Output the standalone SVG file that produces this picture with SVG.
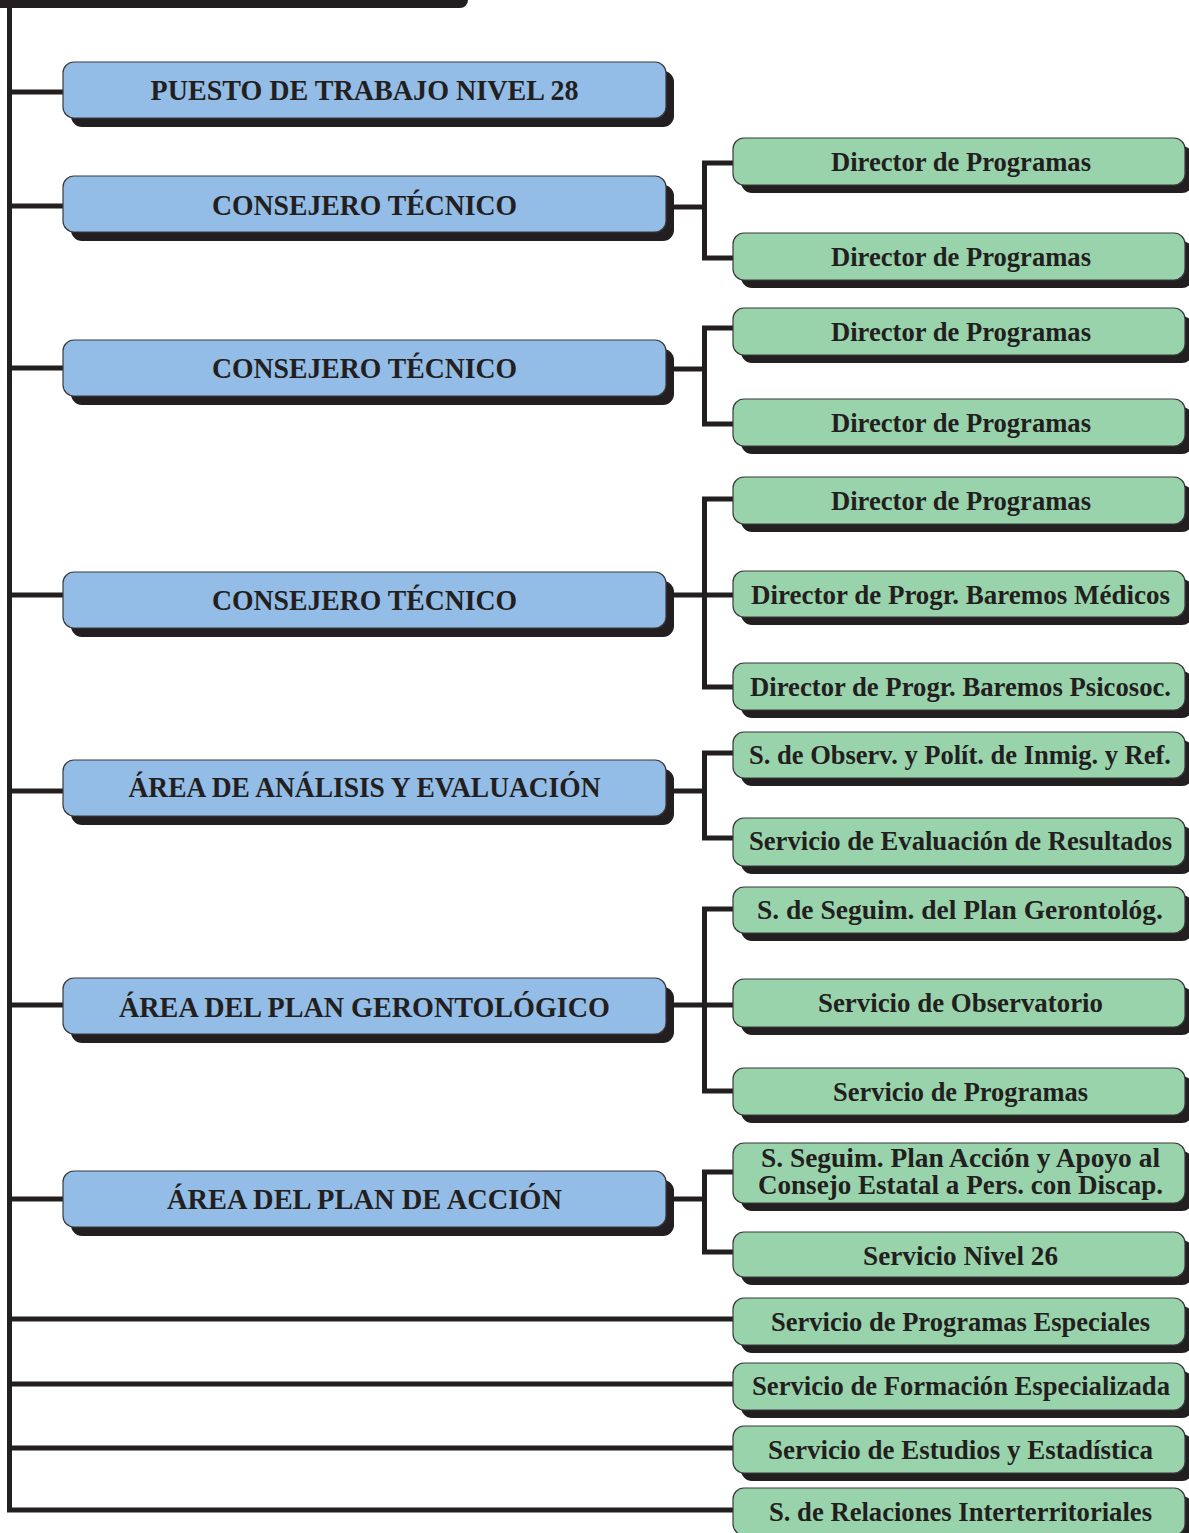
<svg xmlns="http://www.w3.org/2000/svg" width="1189" height="1533" viewBox="0 0 1189 1533">
<style>
.conn{fill:none;stroke:#231f20;stroke-width:5;stroke-linejoin:miter;stroke-linecap:butt}
.sh{fill:#231f20}
.blue{fill:#93bde6;stroke:#3a3a3a;stroke-width:1.2}
.green{fill:#99d3ac;stroke:#3a3a3a;stroke-width:1.2}
.bt{font-family:"Liberation Serif","Times New Roman",serif;font-weight:bold;font-size:29px;fill:#231f20;text-anchor:middle}
.gt{font-family:"Liberation Serif","Times New Roman",serif;font-weight:bold;font-size:27px;fill:#231f20;text-anchor:middle}
</style>
<rect width="1189" height="1533" fill="#ffffff"/>
<path class="sh" d="M0 0 H468 A8 8 0 0 1 460 8 H0 Z"/>
<g id="connectors">
<path class="conn" d="M9.5 0 V1510 H733"/>
<path class="conn" d="M9.5 92 H63"/>
<path class="conn" d="M9.5 206 H63"/>
<path class="conn" d="M9.5 368 H63"/>
<path class="conn" d="M9.5 595 H63"/>
<path class="conn" d="M9.5 791 H63"/>
<path class="conn" d="M9.5 1005 H63"/>
<path class="conn" d="M9.5 1199 H63"/>
<path class="conn" d="M9.5 1319 H733"/>
<path class="conn" d="M9.5 1384 H733"/>
<path class="conn" d="M9.5 1448 H733"/>
<path class="conn" d="M666 207 H704.5"/>
<path class="conn" d="M733 163 H704.5 V258 H733"/>
<path class="conn" d="M666 369 H704.5"/>
<path class="conn" d="M733 328 H704.5 V424 H733"/>
<path class="conn" d="M666 595 H733"/>
<path class="conn" d="M733 499 H704.5 V687 H733"/>
<path class="conn" d="M666 791 H704.5"/>
<path class="conn" d="M733 753 H704.5 V838 H733"/>
<path class="conn" d="M666 1005 H733"/>
<path class="conn" d="M733 909 H704.5 V1091 H733"/>
<path class="conn" d="M666 1199 H704.5"/>
<path class="conn" d="M733 1172 H704.5 V1252 H733"/>
</g>
<g id="n-puesto"><rect class="sh" x="71" y="71" width="603" height="56" rx="11"/><rect class="blue" x="63" y="62" width="603" height="56" rx="11"/><text class="bt" x="364.5" y="100" textLength="428" lengthAdjust="spacingAndGlyphs">PUESTO DE TRABAJO NIVEL 28</text></g>
<g id="n-consejero1"><rect class="sh" x="71" y="185" width="603" height="56" rx="11"/><rect class="blue" x="63" y="176" width="603" height="56" rx="11"/><text class="bt" x="364.5" y="215" textLength="305" lengthAdjust="spacingAndGlyphs">CONSEJERO TÉCNICO</text></g>
<g id="n-consejero2"><rect class="sh" x="71" y="349" width="603" height="56" rx="11"/><rect class="blue" x="63" y="340" width="603" height="56" rx="11"/><text class="bt" x="364.5" y="378" textLength="305" lengthAdjust="spacingAndGlyphs">CONSEJERO TÉCNICO</text></g>
<g id="n-consejero3"><rect class="sh" x="71" y="581" width="603" height="56" rx="11"/><rect class="blue" x="63" y="572" width="603" height="56" rx="11"/><text class="bt" x="364.5" y="610" textLength="305" lengthAdjust="spacingAndGlyphs">CONSEJERO TÉCNICO</text></g>
<g id="n-analisis"><rect class="sh" x="71" y="769" width="603" height="56" rx="11"/><rect class="blue" x="63" y="760" width="603" height="56" rx="11"/><text class="bt" x="364.5" y="797" textLength="472" lengthAdjust="spacingAndGlyphs">ÁREA DE ANÁLISIS Y EVALUACIÓN</text></g>
<g id="n-geronto"><rect class="sh" x="71" y="987" width="603" height="56" rx="11"/><rect class="blue" x="63" y="978" width="603" height="56" rx="11"/><text class="bt" x="364.5" y="1017" textLength="491" lengthAdjust="spacingAndGlyphs">ÁREA DEL PLAN GERONTOLÓGICO</text></g>
<g id="n-accion"><rect class="sh" x="71" y="1180" width="603" height="56" rx="11"/><rect class="blue" x="63" y="1171" width="603" height="56" rx="11"/><text class="bt" x="364.5" y="1209" textLength="395" lengthAdjust="spacingAndGlyphs">ÁREA DEL PLAN DE ACCIÓN</text></g>
<g id="g1"><rect class="sh" x="741" y="146" width="452" height="47" rx="11"/><rect class="green" x="733" y="138" width="452" height="47" rx="11"/><text class="gt" x="961" y="171" textLength="260" lengthAdjust="spacingAndGlyphs">Director de Programas</text></g>
<g id="g2"><rect class="sh" x="741" y="241" width="452" height="47" rx="11"/><rect class="green" x="733" y="233" width="452" height="47" rx="11"/><text class="gt" x="961" y="266" textLength="260" lengthAdjust="spacingAndGlyphs">Director de Programas</text></g>
<g id="g3"><rect class="sh" x="741" y="316" width="452" height="47" rx="11"/><rect class="green" x="733" y="308" width="452" height="47" rx="11"/><text class="gt" x="961" y="341" textLength="260" lengthAdjust="spacingAndGlyphs">Director de Programas</text></g>
<g id="g4"><rect class="sh" x="741" y="407" width="452" height="47" rx="11"/><rect class="green" x="733" y="399" width="452" height="47" rx="11"/><text class="gt" x="961" y="432" textLength="260" lengthAdjust="spacingAndGlyphs">Director de Programas</text></g>
<g id="g5"><rect class="sh" x="741" y="485" width="452" height="47" rx="11"/><rect class="green" x="733" y="477" width="452" height="47" rx="11"/><text class="gt" x="961" y="510" textLength="260" lengthAdjust="spacingAndGlyphs">Director de Programas</text></g>
<g id="g6"><rect class="sh" x="741" y="579" width="452" height="46" rx="11"/><rect class="green" x="733" y="571" width="452" height="46" rx="11"/><text class="gt" x="960.5" y="604" textLength="419" lengthAdjust="spacingAndGlyphs">Director de Progr. Baremos Médicos</text></g>
<g id="g7"><rect class="sh" x="741" y="671" width="452" height="47" rx="11"/><rect class="green" x="733" y="663" width="452" height="47" rx="11"/><text class="gt" x="960.5" y="696" textLength="421" lengthAdjust="spacingAndGlyphs">Director de Progr. Baremos Psicosoc.</text></g>
<g id="g8"><rect class="sh" x="741" y="740" width="452" height="46" rx="11"/><rect class="green" x="733" y="732" width="452" height="46" rx="11"/><text class="gt" x="960" y="764" textLength="422" lengthAdjust="spacingAndGlyphs">S. de Observ. y Polít. de Inmig. y Ref.</text></g>
<g id="g9"><rect class="sh" x="741" y="826" width="452" height="48" rx="11"/><rect class="green" x="733" y="818" width="452" height="48" rx="11"/><text class="gt" x="960.5" y="850" textLength="423" lengthAdjust="spacingAndGlyphs">Servicio de Evaluación de Resultados</text></g>
<g id="g10"><rect class="sh" x="741" y="895" width="452" height="46" rx="11"/><rect class="green" x="733" y="887" width="452" height="46" rx="11"/><text class="gt" x="960" y="919" textLength="406" lengthAdjust="spacingAndGlyphs">S. de Seguim. del Plan Gerontológ.</text></g>
<g id="g11"><rect class="sh" x="741" y="987" width="452" height="48" rx="11"/><rect class="green" x="733" y="979" width="452" height="48" rx="11"/><text class="gt" x="960.5" y="1012" textLength="285" lengthAdjust="spacingAndGlyphs">Servicio de Observatorio</text></g>
<g id="g12"><rect class="sh" x="741" y="1076" width="452" height="47" rx="11"/><rect class="green" x="733" y="1068" width="452" height="47" rx="11"/><text class="gt" x="960.5" y="1101" textLength="255" lengthAdjust="spacingAndGlyphs">Servicio de Programas</text></g>
<g id="g13"><rect class="sh" x="741" y="1151" width="452" height="60" rx="11"/><rect class="green" x="733" y="1143" width="452" height="60" rx="11"/><text class="gt" x="960.5" y="1167" textLength="399" lengthAdjust="spacingAndGlyphs">S. Seguim. Plan Acción y Apoyo al</text><text class="gt" x="960.5" y="1194" textLength="405" lengthAdjust="spacingAndGlyphs">Consejo Estatal a Pers. con Discap.</text></g>
<g id="g14"><rect class="sh" x="741" y="1240" width="452" height="45" rx="11"/><rect class="green" x="733" y="1232" width="452" height="45" rx="11"/><text class="gt" x="960.5" y="1265" textLength="195" lengthAdjust="spacingAndGlyphs">Servicio Nivel 26</text></g>
<g id="g15"><rect class="sh" x="741" y="1306" width="452" height="47" rx="11"/><rect class="green" x="733" y="1298" width="452" height="47" rx="11"/><text class="gt" x="960.5" y="1331" textLength="379" lengthAdjust="spacingAndGlyphs">Servicio de Programas Especiales</text></g>
<g id="g16"><rect class="sh" x="741" y="1371" width="452" height="47" rx="11"/><rect class="green" x="733" y="1363" width="452" height="47" rx="11"/><text class="gt" x="961" y="1395" textLength="418" lengthAdjust="spacingAndGlyphs">Servicio de Formación Especializada</text></g>
<g id="g17"><rect class="sh" x="741" y="1434" width="452" height="47" rx="11"/><rect class="green" x="733" y="1426" width="452" height="47" rx="11"/><text class="gt" x="960.5" y="1459" textLength="385" lengthAdjust="spacingAndGlyphs">Servicio de Estudios y Estadística</text></g>
<g id="g18"><rect class="sh" x="741" y="1496" width="452" height="47" rx="11"/><rect class="green" x="733" y="1488" width="452" height="47" rx="11"/><text class="gt" x="960.5" y="1521" textLength="383" lengthAdjust="spacingAndGlyphs">S. de Relaciones Interterritoriales</text></g>
</svg>
